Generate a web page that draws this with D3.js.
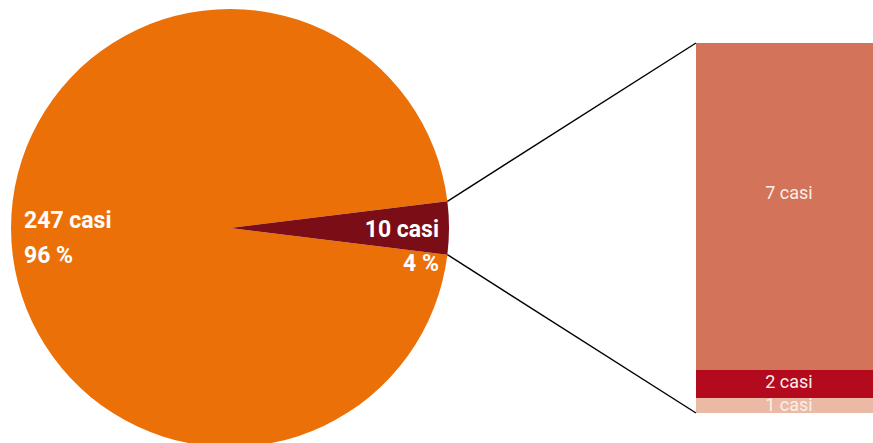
<!doctype html>
<html>
<head>
<meta charset="utf-8"/>
<title>Casi</title>
<script src="https://d3js.org/d3.v7.min.js"></script>
<style>
 body { margin: 0; background: #fff; }
 text { font-family: Roboto, "DejaVu Sans", sans-serif; }
</style>
</head>
<body>
<script>
// pie data
var pieLabels = ["247 casi", "10 casi"];
var piePerc = ["96 %", "4 %"];
var pieValues = [247, 10];
var pieColors = ["#ec7008", "#7a0d16"];

// bar data (detail of the 10 casi), bottom to top
var barLabels = ["1 casi", "2 casi", "7 casi"];
var barValues = [1, 2, 7];
var barColors = ["#ebbaa5", "#b30a1e", "#d2735a"];

var W = 873, H = 443;
var svg = d3.select("body").append("svg")
    .attr("width", W).attr("height", H);

var cx = 230, cy = 228, r = 219;
var small = pieValues[1] / d3.sum(pieValues) * 2 * Math.PI;
var pie = d3.pie().sort(null)
    .startAngle(Math.PI / 2 + small / 2)
    .endAngle(Math.PI / 2 + small / 2 + 2 * Math.PI);
var arcs = pie(pieValues);
var arc = d3.arc().innerRadius(0).outerRadius(r);

var g = svg.append("g").attr("transform", "translate(" + cx + "," + cy + ")");
g.selectAll("path").data(arcs).enter().append("path")
    .attr("d", arc)
    .attr("fill", function(d, i) { return pieColors[i]; });

// stacked bar
var cum = [0];
barValues.forEach(function(v, i) { cum.push(cum[i] + v); });
var y = d3.scaleLinear().domain(cum).range([413, 398, 370, 43]);
var bx = 696, bw = 186;

svg.selectAll("rect.seg").data(barValues).enter().append("rect")
    .attr("class", "seg")
    .attr("x", bx)
    .attr("width", bw)
    .attr("y", function(d, i) { return y(cum[i + 1]); })
    .attr("height", function(d, i) { return y(cum[i]) - y(cum[i + 1]); })
    .attr("fill", function(d, i) { return barColors[i]; });

var labOff = [-2, -10, -171];
svg.selectAll("text.seg").data(barValues).enter().append("text")
    .attr("class", "seg")
    .attr("x", bx + bw / 2)
    .attr("y", function(d, i) { return y(cum[i]) + labOff[i]; })
    .attr("text-anchor", "middle")
    .attr("font-size", 18)
    .attr("fill", "#fbeee9")
    .text(function(d, i) { return barLabels[i]; });

// connector lines
var a0 = arcs[1].startAngle, a1 = arcs[1].endAngle;
var p0 = [cx + r * Math.sin(a0), cy - r * Math.cos(a0)];
var p1 = [cx + r * Math.sin(a1), cy - r * Math.cos(a1)];
svg.append("line")
    .attr("x1", p0[0]).attr("y1", p0[1])
    .attr("x2", bx).attr("y2", y(cum[3]))
    .attr("stroke", "#000").attr("stroke-width", 1.4);
svg.append("line")
    .attr("x1", p1[0]).attr("y1", p1[1])
    .attr("x2", bx).attr("y2", y(0))
    .attr("stroke", "#000").attr("stroke-width", 1.4);

// pie labels
function lab(x, yy, anchor, t) {
  svg.append("text").attr("x", x).attr("y", yy)
     .attr("text-anchor", anchor)
     .attr("font-size", 23).attr("font-weight", "bold")
     .attr("fill", "#fff").text(t);
}
lab(24, 228, "start", pieLabels[0]);
lab(24, 263, "start", piePerc[0]);
lab(439, 237, "end", pieLabels[1]);
lab(439, 271, "end", piePerc[1]);
</script>
</body>
</html>
